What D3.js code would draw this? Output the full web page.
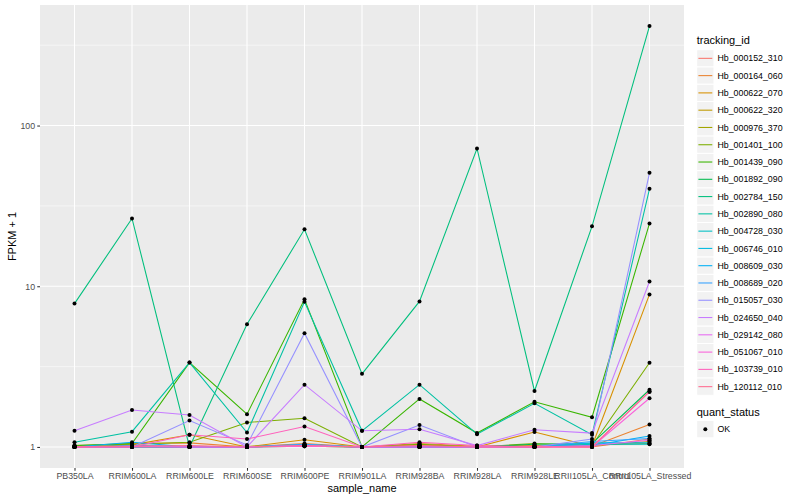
<!DOCTYPE html>
<html><head><meta charset="utf-8">
<script src="https://cdn.jsdelivr.net/npm/d3@7"></script>
<style>body{margin:0;background:#fff}svg{display:block}text{font-family:"Liberation Sans",Arial,Helvetica,sans-serif}</style>
</head><body><svg id="c" width="800" height="500"></svg>
<script>
const samples = ["PB350LA","RRIM600LA","RRIM600LE","RRIM600SE","RRIM600PE","RRIM901LA","RRIM928BA","RRIM928LA","RRIM928LE","RRII105LA_Control","RRII105LA_Stressed"];
const genes = ["Hb_000152_310","Hb_000164_060","Hb_000622_070","Hb_000622_320","Hb_000976_370","Hb_001401_100","Hb_001439_090","Hb_001892_090","Hb_002784_150","Hb_002890_080","Hb_004728_030","Hb_006746_010","Hb_008609_030","Hb_008689_020","Hb_015057_030","Hb_024650_040","Hb_029142_080","Hb_051067_010","Hb_103739_010","Hb_120112_010"];
const geneColors = ["#F8766D","#EA8331","#D89000","#C09B00","#A3A500","#7CAE00","#39B600","#00BB4E","#00BF7D","#00C1A3","#00BFC4","#00BAE0","#00B0F6","#35A2FF","#9590FF","#C77CFF","#E76BF3","#FA62DB","#FF62BC","#FF6C91"];
// FPKM + 1, one row per gene, columns follow samples
const fpkmPlus1 = [
  [1.00,1.02,1.01,1.00,1.03,1.00,1.02,1.00,1.01,1.00,1.12],
  [1.01,1.05,1.06,1.00,1.05,1.00,1.05,1.01,1.02,1.01,1.38],
  [1.00,1.03,1.19,1.00,1.11,1.00,1.03,1.00,1.24,1.01,8.9],
  [1.00,1.01,1.00,1.00,1.02,1.00,1.00,1.00,1.00,1.02,1.08],
  [1.00,1.00,1.00,1.01,1.01,1.00,1.01,1.00,1.00,1.03,1.05],
  [1.02,1.04,1.07,1.42,1.51,1.00,1.04,1.00,1.05,1.02,3.34],
  [1.02,1.05,3.35,1.60,8.30,1.00,1.99,1.22,1.91,1.53,24.6],
  [1.00,1.00,1.00,1.00,1.01,1.00,1.00,1.00,1.04,1.05,2.27],
  [7.8,26.4,1.00,5.8,22.6,2.85,8.05,72,2.23,23.6,416],
  [1.07,1.245,3.35,1.23,8.0,1.26,2.44,1.20,1.87,1.19,40.4],
  [1.00,1.01,1.00,1.00,1.03,1.00,1.00,1.00,1.00,1.04,1.04],
  [1.00,1.00,1.00,1.00,1.02,1.00,1.00,1.00,1.00,1.06,1.06],
  [1.00,1.07,1.00,1.00,1.02,1.00,1.00,1.00,1.00,1.02,1.17],
  [1.00,1.02,1.00,1.00,1.04,1.00,1.00,1.00,1.00,1.08,1.13],
  [1.00,1.00,1.46,1.03,5.1,1.00,1.37,1.00,1.00,1.12,50.8],
  [1.26,1.70,1.58,1.00,2.44,1.26,1.29,1.02,1.28,1.22,10.7],
  [1.00,1.01,1.00,1.00,1.02,1.00,1.00,1.00,1.00,1.02,1.10],
  [1.00,1.00,1.00,1.00,1.01,1.00,1.00,1.00,1.00,1.00,2.01],
  [1.00,1.00,1.19,1.12,1.34,1.00,1.07,1.02,1.00,1.00,2.20],
  [1.00,1.01,1.02,1.00,1.02,1.00,1.02,1.00,1.00,1.00,2.22]
];
const yTicks = [1, 10, 100];
const yMinor = [Math.pow(10,0.5), Math.pow(10,1.5), Math.pow(10,2.5)];
const statusLevels = ["OK"];

const svg = d3.select("#c");
const P = {l:40, r:684, t:5, b:468};

const all = fpkmPlus1.flat();
const lo = Math.log10(d3.min(all)), hi = Math.log10(d3.max(all));
const ex = (hi - lo) * 0.05;
const y = d3.scaleLog().domain([Math.pow(10, lo - ex), Math.pow(10, hi + ex)]).range([P.b, P.t]);
const x = d3.scalePoint().domain(samples).range([P.l, P.r]).padding(0.6);
const color = d3.scaleOrdinal().domain(genes).range(geneColors);

svg.append("rect").attr("width",800).attr("height",500).attr("fill","#fff");
svg.append("rect").attr("x",P.l).attr("y",P.t).attr("width",P.r-P.l).attr("height",P.b-P.t).attr("fill","#EBEBEB");

const grid = svg.append("g");
grid.selectAll(".mn").data(yMinor).join("line")
  .attr("x1",P.l).attr("x2",P.r).attr("y1",d=>y(d)).attr("y2",d=>y(d))
  .attr("stroke","#fff").attr("stroke-width",0.53);
grid.selectAll(".mj").data(yTicks).join("line")
  .attr("x1",P.l).attr("x2",P.r).attr("y1",d=>y(d)).attr("y2",d=>y(d))
  .attr("stroke","#fff").attr("stroke-width",1.07);
grid.selectAll(".vx").data(samples).join("line")
  .attr("x1",d=>x(d)).attr("x2",d=>x(d)).attr("y1",P.t).attr("y2",P.b)
  .attr("stroke","#fff").attr("stroke-width",1.07);

const line = d3.line().x((d,i)=>x(samples[i])).y(d=>y(d));
svg.append("g").selectAll("path").data(fpkmPlus1).join("path")
  .attr("d", d=>line(d)).attr("fill","none")
  .attr("stroke",(d,i)=>color(genes[i])).attr("stroke-width",1.07);

const pts = [];
fpkmPlus1.forEach((row,gi)=>row.forEach((v,si)=>pts.push({s:samples[si], v})));
svg.append("g").selectAll("circle").data(pts).join("circle")
  .attr("cx",d=>x(d.s)).attr("cy",d=>y(d.v)).attr("r",2).attr("fill","#000");

// axes
const yAxis = d3.axisLeft(y).tickValues(yTicks).tickFormat(d3.format("d")).tickSize(2.75).tickPadding(2.2);
const gy = svg.append("g").attr("transform",`translate(${P.l},0)`).call(yAxis);
const xAxis = d3.axisBottom(x).tickSize(2.75).tickPadding(2.2);
const gx = svg.append("g").attr("transform",`translate(0,${P.b})`).call(xAxis);
[gy,gx].forEach(g=>{
  g.select(".domain").remove();
  g.selectAll(".tick line").attr("stroke","#333333").attr("stroke-width",1.07);
  g.selectAll(".tick text").attr("fill","#4D4D4D").attr("font-size","8.8px").attr("font-family","Liberation Sans, Arial, sans-serif");
});

svg.append("text").attr("x",(P.l+P.r)/2).attr("y",492).attr("text-anchor","middle")
  .attr("font-size","11px").text("sample_name");
svg.append("text").attr("transform",`translate(16,${(P.t+P.b)/2}) rotate(-90)`).attr("text-anchor","middle")
  .attr("font-size","11px").text("FPKM + 1");

// legend
const L = {x:696.7, key:17.28};
svg.append("text").attr("x",L.x).attr("y",44).attr("font-size","11px").text("tracking_id");
const lg = svg.append("g").attr("transform","translate(0,49.7)");
const items = lg.selectAll("g").data(genes).join("g").attr("transform",(d,i)=>`translate(${L.x},${i*L.key})`);
items.append("rect").attr("width",L.key).attr("height",L.key).attr("fill","#F2F2F2").attr("stroke","#fff").attr("stroke-width",1);
items.append("line").attr("x1",1.7).attr("x2",L.key-1.7).attr("y1",L.key/2).attr("y2",L.key/2)
  .attr("stroke",d=>color(d)).attr("stroke-width",1.07);
items.append("text").attr("x",L.key+3.5).attr("y",L.key/2+3.1).attr("font-size","8.8px").text(d=>d);

svg.append("text").attr("x",L.x).attr("y",416).attr("font-size","11px").text("quant_status");
const sg = svg.append("g").attr("transform","translate(0,420.5)");
const sItems = sg.selectAll("g").data(statusLevels).join("g").attr("transform",(d,i)=>`translate(${L.x},${i*L.key})`);
sItems.append("rect").attr("width",L.key).attr("height",L.key).attr("fill","#F2F2F2").attr("stroke","#fff");
sItems.append("circle").attr("cx",L.key/2).attr("cy",L.key/2).attr("r",2).attr("fill","#000");
sItems.append("text").attr("x",L.key+3.5).attr("y",L.key/2+3.1).attr("font-size","8.8px").text(d=>d);
</script></body></html>
